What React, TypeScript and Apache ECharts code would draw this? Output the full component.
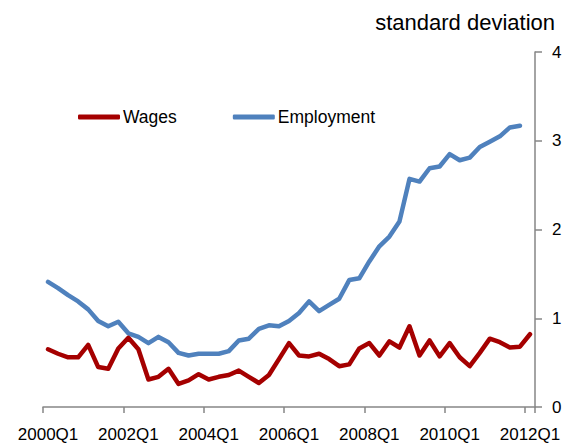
import React, { useEffect, useRef } from "react";
import * as echarts from "echarts";

const years = [2000, 2001, 2002, 2003, 2004, 2005, 2006, 2007, 2008, 2009, 2010, 2011, 2012];
const quarters: string[] = [];
years.forEach((y) => {
  ["Q1", "Q2", "Q3", "Q4"].forEach((q) => {
    if (y < 2012 || q === "Q1") quarters.push(`${y}${q}`);
  });
});

const wages = [
  0.65, 0.6, 0.56, 0.56, 0.7, 0.45, 0.43, 0.66, 0.78, 0.65,
  0.31, 0.34, 0.43, 0.26, 0.3, 0.37, 0.31, 0.34, 0.36, 0.41,
  0.34, 0.27, 0.36, 0.54, 0.72, 0.58, 0.57, 0.6, 0.54, 0.46,
  0.48, 0.66, 0.72, 0.58, 0.74, 0.67, 0.91, 0.58, 0.75, 0.57,
  0.72, 0.56, 0.46, 0.61, 0.77, 0.73, 0.67, 0.68, 0.82,
];

const employment = [
  1.41, 1.34, 1.26, 1.19, 1.1, 0.97, 0.91, 0.96, 0.83, 0.79,
  0.72, 0.79, 0.73, 0.61, 0.58, 0.6, 0.6, 0.6, 0.63, 0.75,
  0.77, 0.88, 0.92, 0.91, 0.97, 1.06, 1.19, 1.08, 1.15, 1.22,
  1.43, 1.45, 1.64, 1.81, 1.92, 2.09, 2.57, 2.54, 2.69, 2.71,
  2.85, 2.78, 2.81, 2.93, 2.99, 3.05, 3.15, 3.17,
];

const FONT = "Liberation Sans";
const AXIS_COLOR = "#868686";
const RED = "#A50000";
const BLUE = "#4F81BD";

export default function App() {
  const ref = useRef<HTMLDivElement>(null);
  useEffect(() => {
    if (!ref.current) return;
    const chart = echarts.init(ref.current, undefined, { renderer: "svg" });
    chart.setOption({
      animation: false,
      backgroundColor: "#ffffff",
      textStyle: { fontFamily: FONT },
      title: {
        text: "standard deviation",
        right: 6,
        top: 6,
        padding: 5,
        textStyle: { fontFamily: FONT, fontSize: 22, fontWeight: "normal", color: "#000" },
      },
      legend: {
        data: ["Wages", "Employment"],
        left: 73,
        top: 103,
        itemWidth: 42,
        itemHeight: 5,
        itemGap: 56,
        icon: "roundRect",
        textStyle: { fontFamily: FONT, fontSize: 17.5, color: "#000", padding: [0, 0, 0, -2] },
      },
      grid: { left: 43, right: 31, top: 52, bottom: 35, containLabel: false },
      xAxis: {
        type: "category",
        data: quarters,
        boundaryGap: true,
        axisLine: { show: true, lineStyle: { color: AXIS_COLOR, width: 1.5 } },
        axisTick: { show: true, interval: 7, length: 6, lineStyle: { color: AXIS_COLOR, width: 1.5 } },
        axisLabel: { interval: 7, fontSize: 17, color: "#000", margin: 19, fontFamily: FONT },
        splitLine: { show: false },
      },
      yAxis: {
        type: "value",
        position: "right",
        min: 0,
        max: 4,
        interval: 1,
        axisLine: { show: true, lineStyle: { color: AXIS_COLOR, width: 1.5 } },
        axisTick: { show: true, length: 7, lineStyle: { color: AXIS_COLOR, width: 1.5 } },
        axisLabel: { fontSize: 17, color: "#000", margin: 17, fontFamily: FONT },
        splitLine: { show: false },
      },
      series: [
        {
          name: "Employment",
          type: "line",
          data: employment,
          showSymbol: false,
          symbol: "none",
          itemStyle: { color: BLUE },
          lineStyle: { color: BLUE, width: 4.5, cap: "round", join: "round" },
        },
        {
          name: "Wages",
          type: "line",
          data: wages,
          showSymbol: false,
          symbol: "none",
          itemStyle: { color: RED },
          lineStyle: { color: RED, width: 4.5, cap: "round", join: "round" },
        },
      ],
    });
    return () => chart.dispose();
  }, []);
  return (
    <div
      ref={ref}
      style={{ position: "absolute", left: 0, top: 0, width: 566, height: 443 }}
    />
  );
}
